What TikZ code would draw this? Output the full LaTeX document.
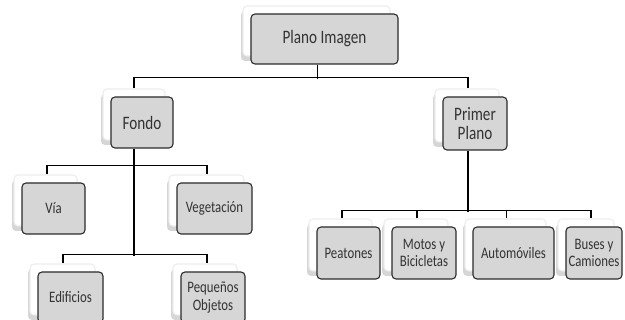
\documentclass[tikz,border=0pt]{standalone}
\usepackage{fontspec}
\setmainfont{Carlito}[FakeStretch=0.8]
\usetikzlibrary{shadows}
\definecolor{boxgray}{HTML}{D6D6D6}
\definecolor{edgegray}{HTML}{2B2B2B}
\definecolor{txtgray}{HTML}{333333}

\tikzset{
  card/.style={rectangle, rounded corners=4pt, draw=edgegray, line width=1.1pt,
    fill=boxgray, text=txtgray, align=center, inner sep=0pt, minimum height=51pt,
    general shadow={fill=black!16, shadow xshift=-10pt, shadow yshift=3pt},
    general shadow={fill=white, draw=black!7, shadow xshift=-8pt, shadow yshift=8pt}},
  toplvl/.style={card, font=\fontsize{19}{19.5}\selectfont},
  sublvl/.style={card, font=\fontsize{16}{17.5}\selectfont},
  link/.style={draw=black, line width=1.1pt},
}

\begin{document}
\begin{tikzpicture}[x=1pt, y=-1pt]
  \useasboundingbox (0,0) rectangle (625,320);

  % top levels
  \node[toplvl, minimum width=147pt, minimum height=50pt] (plano) at (324.5,39) {Plano Imagen};
  \node[toplvl, minimum width=62pt] (fondo) at (142,122.5) {Fondo};
  \node[toplvl, minimum width=64pt, minimum height=53pt] (primer) at (475,123.5) {Primer\\Plano};

  % fondo side
  \node[sublvl, minimum width=63pt] (via) at (53.5,208.5) {Vía};
  \node[sublvl, minimum width=75pt] (veg) at (214.5,208.5) {Vegetación};
  \node[sublvl, minimum width=65pt] (edif) at (70.5,297.5) {Edificios};
  \node[sublvl, minimum width=64pt] (peq) at (213,297.5) {Pequeños\\Objetos};

  % primer plano side
  \foreach \nm/\xx/\ww/\txt in
      {peat/348.5/63/Peatones, motos/424/64/{Motos y\\Bicicletas},
       auto/513.5/81/Automóviles, buses/594/56/{Buses y\\Camiones}} {
    \node[sublvl, minimum width=\ww pt, minimum height=52pt] (\nm) at (\xx,253) {\txt};
  }

  % connectors
  \draw[link] ([xshift=-7pt]plano.south) -- ++(0,14);
  \draw[link] ([shift={(-8pt,8pt)}]fondo.north) -- ++(0,-11) -| ([shift={(-7pt,8pt)}]primer.north);

  \draw[link] ([xshift=-8pt]fondo.south) -- ++(0,107);
  \draw[link] ([shift={(-6.5pt,8pt)}]via.north) -- ++(0,-9) -| ([shift={(-7.5pt,8pt)}]veg.north);
  \draw[link] ([shift={(-7.5pt,8pt)}]edif.north) -- ++(0,-9) -| ([shift={(-6pt,8pt)}]peq.north);

  \draw[link] ([xshift=-7pt]primer.south) -- ++(0,61);
  \draw[link] ([shift={(-6.5pt,8pt)}]peat.north) -- ++(0,-8) -| ([shift={(-3pt,8pt)}]buses.north);
  \foreach \nm in {motos, auto}
    \draw[link] ([shift={(-7pt,8pt)}]\nm.north) -- ++(0,-8);
\end{tikzpicture}
\end{document}
